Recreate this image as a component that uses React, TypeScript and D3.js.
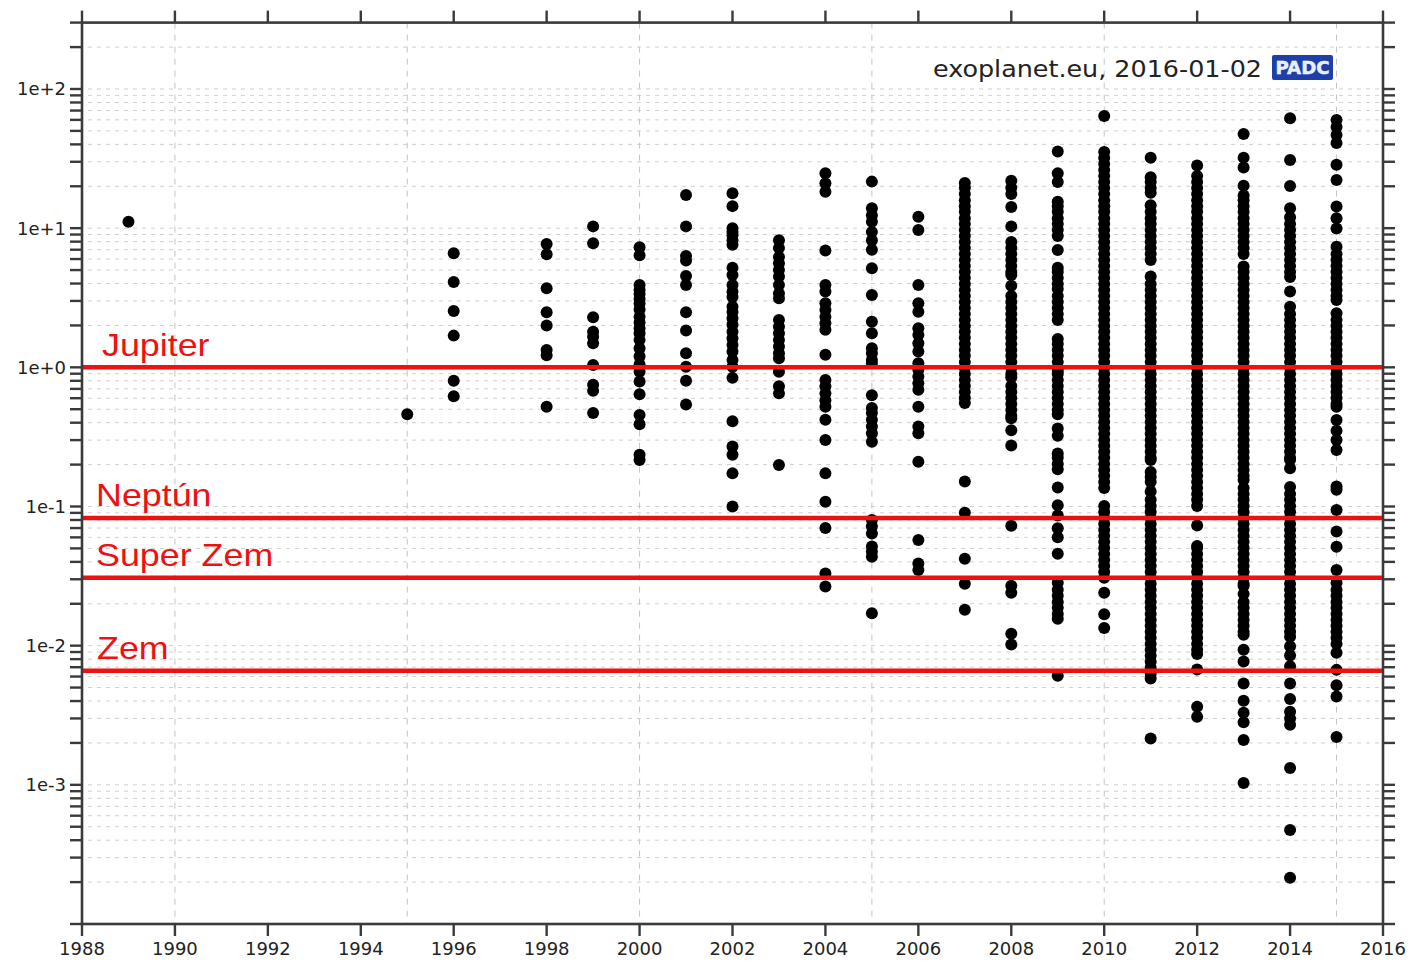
import React from "react";
import * as d3 from "d3";

// Planet masses (in Jupiter masses) by discovery year
const m1989 = [11.1];
const m1995 = [0.46];
const m1996 = [6.6, 4.1, 2.54, 1.69, 0.8, 0.62];
const m1998 = [7.7, 6.5, 3.7, 2.49, 2.0, 1.33, 1.22, 0.52];
const m1999 = [10.3, 7.8, 2.29, 1.8, 1.66, 1.49, 1.04, 0.75, 0.68, 0.47];
const m2000 = [7.3, 6.4, 3.9, 3.6, 3.37, 3.1, 2.88, 2.6, 2.31, 2.1, 1.91, 1.76, 1.57, 1.37, 1.2, 1.05, 0.93, 0.79, 0.64, 0.455, 0.39, 0.235, 0.216];
const m2001 = [17.3, 10.3, 6.3, 5.85, 4.54, 3.9, 2.49, 1.84, 1.26, 1.01, 0.8, 0.54];
const m2002 = [17.8, 14.4, 10.0, 9.4, 8.9, 8.2, 7.6, 5.2, 4.6, 3.9, 3.5, 3.2, 2.73, 2.5, 2.25, 2.02, 1.8, 1.62, 1.45, 1.3, 1.13, 1.01, 0.84, 0.41, 0.27, 0.235, 0.173, 0.1];
const m2003 = [8.2, 7.2, 6.2, 5.6, 5.0, 4.5, 3.9, 3.4, 3.13, 2.19, 1.96, 1.76, 1.57, 1.41, 1.26, 1.16, 0.93, 0.73, 0.65, 0.199];
const m2004 = [24.8, 21.0, 18.3, 6.9, 3.9, 3.5, 2.89, 2.58, 2.31, 2.07, 1.86, 1.23, 0.81, 0.73, 0.65, 0.58, 0.52, 0.42, 0.3, 0.173, 0.108, 0.07, 0.033, 0.0266];
const m2005 = [21.6, 13.9, 12.4, 11.1, 9.4, 8.2, 7.0, 5.15, 3.31, 2.13, 1.76, 1.37, 1.26, 1.13, 1.07, 0.63, 0.51, 0.47, 0.42, 0.375, 0.336, 0.292, 0.08, 0.072, 0.064, 0.0515, 0.0474, 0.0436, 0.0171];
const m2006 = [12.1, 9.7, 3.9, 2.89, 2.51, 1.91, 1.71, 1.49, 1.3, 1.07, 0.96, 0.86, 0.77, 0.69, 0.52, 0.375, 0.336, 0.21, 0.0575, 0.039, 0.035];
const m2007 = [21.1, 19.5, 17.6, 15.9, 14.4, 13.1, 11.8, 10.7, 9.7, 8.8, 7.96, 7.21, 6.53, 5.91, 5.35, 4.85, 4.39, 3.97, 3.6, 3.26, 2.95, 2.67, 2.42, 2.19, 1.98, 1.8, 1.63, 1.47, 1.33, 1.21, 1.09, 0.99, 0.897, 0.812, 0.735, 0.666, 0.603, 0.555, 0.151, 0.0902, 0.0421, 0.0279, 0.0181];
const m2008 = [21.9, 19.5, 17.6, 14.2, 10.3, 7.96, 7.21, 6.53, 5.91, 5.35, 4.85, 4.6, 3.86, 3.26, 2.95, 2.67, 2.42, 2.19, 1.98, 1.8, 1.63, 1.47, 1.33, 1.21, 1.09, 0.99, 0.897, 0.85, 0.735, 0.666, 0.603, 0.546, 0.494, 0.448, 0.43, 0.353, 0.274, 0.0727, 0.027, 0.024, 0.0122, 0.0102];
const m2009 = [35.5, 24.8, 21.5, 15.5, 14.4, 13.1, 11.8, 10.7, 9.7, 8.79, 6.97, 5.2, 4.85, 4.39, 3.97, 3.65, 3.26, 2.95, 2.67, 2.42, 2.19, 1.6, 1.47, 1.33, 1.21, 1.09, 0.99, 0.94, 0.897, 0.812, 0.735, 0.666, 0.603, 0.546, 0.494, 0.46, 0.363, 0.323, 0.24, 0.224, 0.202, 0.185, 0.137, 0.102, 0.0863, 0.0697, 0.0601, 0.0458, 0.0283, 0.0252, 0.0228, 0.0206, 0.0187, 0.0169, 0.0156, 0.00607];
const m2010 = [64.0, 35.3, 31.9, 28.9, 26.2, 23.7, 21.5, 19.4, 17.6, 15.9, 14.4, 13.1, 11.8, 10.7, 9.7, 8.79, 7.96, 7.21, 6.53, 5.91, 5.35, 4.85, 4.39, 3.97, 3.6, 3.26, 2.95, 2.67, 2.42, 2.19, 1.98, 1.8, 1.63, 1.47, 1.33, 1.21, 1.09, 0.99, 0.897, 0.812, 0.735, 0.666, 0.603, 0.546, 0.494, 0.448, 0.405, 0.367, 0.333, 0.301, 0.273, 0.247, 0.224, 0.202, 0.183, 0.166, 0.15, 0.136, 0.101, 0.0914, 0.0828, 0.075, 0.0679, 0.0615, 0.0557, 0.0504, 0.0456, 0.0413, 0.0374, 0.0339, 0.0307, 0.024, 0.0168, 0.0134];
const m2011 = [32.0, 23.2, 21.5, 19.4, 18.0, 14.6, 13.1, 11.8, 10.7, 9.7, 8.79, 7.96, 7.21, 6.53, 5.91, 4.5, 3.97, 3.6, 3.26, 2.95, 2.67, 2.42, 2.19, 1.98, 1.8, 1.63, 1.47, 1.33, 1.21, 1.09, 0.99, 0.897, 0.812, 0.735, 0.666, 0.603, 0.546, 0.494, 0.448, 0.405, 0.367, 0.333, 0.301, 0.273, 0.247, 0.224, 0.216, 0.177, 0.163, 0.15, 0.128, 0.112, 0.101, 0.0914, 0.0828, 0.075, 0.0679, 0.0615, 0.0557, 0.0504, 0.0456, 0.0413, 0.0374, 0.0339, 0.0307, 0.0278, 0.0252, 0.0228, 0.0206, 0.0187, 0.0169, 0.0153, 0.0139, 0.0126, 0.0114, 0.0103, 0.00933, 0.00845, 0.00765, 0.00693, 0.00628, 0.0058, 0.00215];
const m2012 = [28.2, 23.7, 21.5, 19.4, 17.6, 15.9, 14.4, 13.1, 11.8, 10.7, 9.7, 8.79, 7.96, 7.21, 6.53, 5.91, 5.35, 4.85, 4.39, 3.97, 3.6, 3.26, 2.95, 2.67, 2.42, 2.19, 1.98, 1.8, 1.63, 1.47, 1.33, 1.21, 1.09, 0.99, 0.897, 0.812, 0.735, 0.666, 0.603, 0.546, 0.494, 0.448, 0.405, 0.367, 0.333, 0.301, 0.273, 0.247, 0.224, 0.202, 0.183, 0.166, 0.15, 0.136, 0.123, 0.112, 0.101, 0.0731, 0.052, 0.0504, 0.0456, 0.0413, 0.0374, 0.0339, 0.0307, 0.0278, 0.0252, 0.0228, 0.0206, 0.0187, 0.0169, 0.0153, 0.0139, 0.0126, 0.0114, 0.0103, 0.00933, 0.0087, 0.00673, 0.00364, 0.00308];
const m2013 = [47.5, 32.0, 27.3, 20.2, 17.2, 15.9, 14.4, 13.1, 11.8, 10.7, 9.7, 8.79, 7.96, 7.21, 6.53, 5.3, 4.85, 4.39, 3.97, 3.6, 3.26, 2.95, 2.67, 2.42, 2.19, 1.98, 1.8, 1.63, 1.47, 1.33, 1.21, 1.09, 0.99, 0.897, 0.812, 0.735, 0.666, 0.603, 0.546, 0.494, 0.448, 0.405, 0.367, 0.333, 0.301, 0.273, 0.247, 0.224, 0.202, 0.183, 0.166, 0.155, 0.136, 0.123, 0.112, 0.101, 0.0914, 0.0828, 0.075, 0.0679, 0.0615, 0.0557, 0.0504, 0.0456, 0.0413, 0.0374, 0.0339, 0.0307, 0.0278, 0.0268, 0.0235, 0.0206, 0.0187, 0.0169, 0.0153, 0.0139, 0.0126, 0.012, 0.00933, 0.0077, 0.00535, 0.00402, 0.0033, 0.00282, 0.0021, 0.00103];
const m2014 = [61.6, 30.9, 20.1, 13.9, 12.0, 10.7, 9.7, 8.79, 7.96, 7.21, 6.53, 5.91, 5.35, 4.85, 4.45, 3.5, 2.72, 2.42, 2.19, 1.98, 1.8, 1.63, 1.47, 1.33, 1.21, 1.09, 0.99, 0.897, 0.812, 0.735, 0.666, 0.603, 0.546, 0.494, 0.448, 0.405, 0.367, 0.333, 0.301, 0.273, 0.247, 0.224, 0.216, 0.188, 0.138, 0.123, 0.112, 0.101, 0.0914, 0.0828, 0.075, 0.0679, 0.0615, 0.0557, 0.0504, 0.0456, 0.0413, 0.0374, 0.0339, 0.0307, 0.0278, 0.0252, 0.0228, 0.0206, 0.0187, 0.0169, 0.0153, 0.0139, 0.0126, 0.0116, 0.0099, 0.0085, 0.0071, 0.00535, 0.00413, 0.00335, 0.003, 0.0027, 0.00132, 0.000474, 0.000215];
const m2015 = [59.9, 53.3, 46.8, 41.0, 28.5, 22.2, 14.3, 11.8, 9.96, 7.34, 6.53, 5.91, 5.35, 4.85, 4.39, 3.97, 3.6, 3.26, 3.05, 2.45, 2.19, 1.98, 1.8, 1.63, 1.47, 1.33, 1.21, 1.09, 0.99, 0.897, 0.812, 0.735, 0.666, 0.603, 0.546, 0.52, 0.419, 0.35, 0.301, 0.255, 0.139, 0.132, 0.0945, 0.066, 0.0513, 0.035, 0.0283, 0.0252, 0.0228, 0.0206, 0.0187, 0.0169, 0.0153, 0.0139, 0.0126, 0.0114, 0.0103, 0.0089, 0.0067, 0.0052, 0.00432, 0.00221];

const discoveries: [number, number[]][] = [
  [1989, m1989], [1995, m1995], [1996, m1996], [1998, m1998], [1999, m1999],
  [2000, m2000], [2001, m2001], [2002, m2002], [2003, m2003], [2004, m2004],
  [2005, m2005], [2006, m2006], [2007, m2007], [2008, m2008], [2009, m2009],
  [2010, m2010], [2011, m2011], [2012, m2012], [2013, m2013], [2014, m2014],
  [2015, m2015],
];

// Reference bodies (Jupiter masses)
const referenceNames = ["Jupiter", "Neptún", "Super Zem", "Zem"];
const referenceMasses = [1, 0.0828, 0.0307, 0.0066];

const yearTicks = d3.range(1988, 2017, 2);
const gridYears = [1990, 1995, 2000, 2005, 2010, 2015];
const decadeValues = [1e-3, 1e-2, 1e-1, 1, 10, 100];
const decadeLabels = ["1e-3", "1e-2", "1e-1", "1e+0", "1e+1", "1e+2"];

const W = 1412;
const H = 962;
const X0 = 82;
const X1 = 1383;
const Y0 = 22.6;
const Y1 = 924;

const x = d3.scaleLinear().domain([1988, 2016]).range([X0, X1]);
const y = d3.scaleLog().domain([1e-4, 300]).range([Y1, Y0]);

const AXIS = "#3a3a3a";
const TXT = "#222";
const RED = "#ee1111";
const labelX = [102, 96, 96, 97];

export default function App() {
  const yTicks = y.ticks();
  const points: { cx: number; cy: number; k: string }[] = [];
  discoveries.forEach(([yr, ms]) =>
    ms.forEach((m, i) => points.push({ cx: x(yr), cy: y(m), k: `${yr}-${i}` }))
  );

  return (
    <div style={{ position: "absolute", left: 0, top: 0 }}>
      <svg width={W} height={H} style={{ display: "block", background: "#fff" }}>
        {/* grid */}
        <g>
          {yTicks
            .filter((t) => t > 1e-4 && t < 300)
            .map((t) => (
              <line key={"gy" + t} x1={X0 + 6} x2={X1 - 4} y1={y(t)} y2={y(t)}
                stroke="#cfcfcf" strokeWidth={1} strokeDasharray="4 5" />
            ))}
          {gridYears.map((g) => (
            <line key={"gx" + g} x1={x(g)} x2={x(g)} y1={Y0} y2={Y1}
              stroke="#c4c4c4" strokeWidth={1} strokeDasharray="6 6" />
          ))}
        </g>

        {/* planets */}
        <g fill="#000">
          {points.map((p) => (
            <circle key={p.k} cx={p.cx} cy={p.cy} r={6} />
          ))}
        </g>

        {/* reference masses */}
        <g>
          {referenceMasses.map((m, i) => (
            <line key={"r" + i} x1={X0} x2={X1} y1={y(m)} y2={y(m)}
              stroke={RED} strokeWidth={4.5} />
          ))}
          {referenceNames.map((n, i) => (
            <text key={"rn" + i}
              transform={`translate(${labelX[i]},${y(referenceMasses[i]) - 11.5}) scale(1.12,1)`}
              fill={RED} fontFamily="'Liberation Sans', Arial, sans-serif" fontSize={32}>
              {n}
            </text>
          ))}
        </g>

        {/* frame */}
        <rect x={X0} y={Y0} width={X1 - X0} height={Y1 - Y0} fill="none" stroke={AXIS} strokeWidth={2.6} />

        {/* ticks */}
        <g stroke={AXIS} strokeWidth={2.4}>
          {yTicks.map((t) => (
            <g key={"ty" + t}>
              <line x1={X0 - 12} x2={X0} y1={y(t)} y2={y(t)} />
              <line x1={X1} x2={X1 + 12} y1={y(t)} y2={y(t)} />
            </g>
          ))}
          {yearTicks.map((t) => (
            <g key={"tx" + t}>
              <line x1={x(t)} x2={x(t)} y1={Y1} y2={Y1 + 12} />
              <line x1={x(t)} x2={x(t)} y1={Y0 - 12} y2={Y0} />
            </g>
          ))}
        </g>

        {/* tick labels */}
        <g fill={TXT} fontFamily="'DejaVu Sans', sans-serif" fontSize={18}>
          {decadeValues.map((v, i) => (
            <text key={"ly" + v} x={66} y={y(v)} dy="0.36em" textAnchor="end">
              {decadeLabels[i]}
            </text>
          ))}
          {yearTicks.map((t) => (
            <text key={"lx" + t} x={x(t)} y={955} textAnchor="middle">
              {t}
            </text>
          ))}
        </g>

        {/* source stamp */}
        <text x={933} y={77} fill={TXT} fontFamily="'DejaVu Sans', sans-serif" fontSize={23}
          textLength={329} lengthAdjust="spacingAndGlyphs">
          exoplanet.eu, 2016-01-02
        </text>
        <rect x={1272} y={55} width={61} height={25} rx={2} fill="#1f3fa8" />
        <text x={1302.5} y={74} textAnchor="middle" fill="#e8eeff" stroke="#ffffff" strokeWidth={0.4}
          fontFamily="'DejaVu Sans', sans-serif" fontWeight="bold" fontSize={17}
          textLength={54} lengthAdjust="spacingAndGlyphs">
          PADC
        </text>
      </svg>
    </div>
  );
}
